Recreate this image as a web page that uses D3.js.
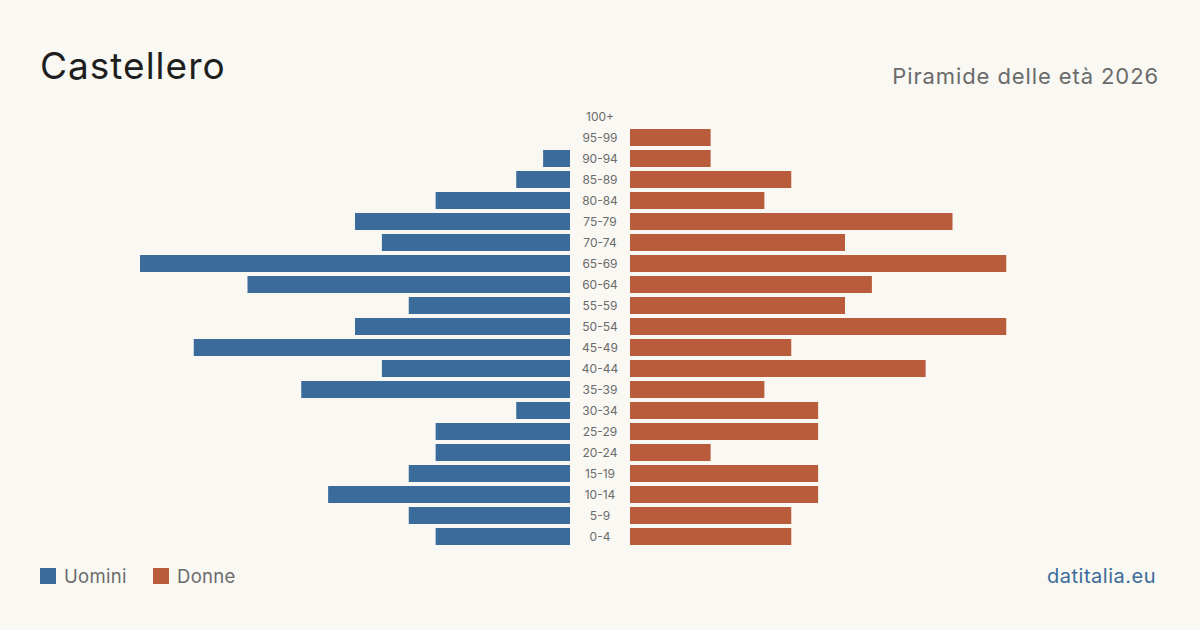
<!DOCTYPE html>
<html><head><meta charset="utf-8">
<script src="https://cdn.jsdelivr.net/npm/d3@7"></script>
<style>
html,body{margin:0;padding:0;background:#f9f8f3;}
svg{display:block;font-family:Inter,"Noto Sans",sans-serif;}
</style></head>
<body>
<svg id="c" width="1200" height="630"></svg>
<script>
const ageGroups = ["100+","95-99","90-94","85-89","80-84","75-79","70-74","65-69","60-64","55-59","50-54","45-49","40-44","35-39","30-34","25-29","20-24","15-19","10-14","5-9","0-4"];
const males   = [0,0,1,2,5,8,7,16,12,6,8,14,7,10,2,5,5,6,9,6,5];
const females = [0,3,3,6,5,12,8,14,9,8,14,6,11,5,7,7,3,7,7,6,6];
const seriesNames = ["Uomini","Donne"];
const colors = ["#3b6b9b","#b95c3c"];

const svg = d3.select("#c");
svg.append("rect").attr("width",1200).attr("height",630).attr("fill","#f9f8f3");

const y = d3.scaleBand().domain(ageGroups).range([106,547]).paddingInner(4/21).paddingOuter(2/21);
const xL = d3.scaleLinear().domain([0,16]).range([570,140]);
const xR = d3.scaleLinear().domain([0,16]).range([630,1060]);

svg.append("g").selectAll("rect").data(ageGroups).join("rect")
  .attr("x",(d,i)=>xL(males[i])).attr("y",d=>y(d))
  .attr("width",(d,i)=>xL(0)-xL(males[i])).attr("height",y.bandwidth())
  .attr("fill",colors[0]);
svg.append("g").selectAll("rect").data(ageGroups).join("rect")
  .attr("x",xR(0)).attr("y",d=>y(d))
  .attr("width",(d,i)=>xR(females[i])-xR(0)).attr("height",y.bandwidth())
  .attr("fill",colors[1]);

svg.append("g").selectAll("text").data(ageGroups).join("text")
  .attr("x",600).attr("y",d=>y(d)+y.bandwidth()/2)
  .attr("dy","0.35em").attr("text-anchor","middle")
  .attr("font-size",12).attr("fill","#6b6b6b").text(d=>d);

svg.append("text").attr("x",40).attr("y",79).attr("font-size",37).attr("letter-spacing",1).attr("fill","#1e1e1e").text("Castellero");
svg.append("text").attr("x",1159).attr("y",84).attr("text-anchor","end").attr("font-size",22).attr("letter-spacing",0.9).attr("fill","#6b6b6b").text("Piramide delle età 2026");

const leg = svg.append("g");
const legX = [40,153];
seriesNames.forEach((n,i)=>{
  leg.append("rect").attr("x",legX[i]).attr("y",568).attr("width",16).attr("height",16).attr("fill",colors[i]);
  leg.append("text").attr("x",legX[i]+24).attr("y",583).attr("font-size",18.5).attr("letter-spacing",0.3).attr("fill","#6b6b6b").text(n);
});
svg.append("text").attr("x",1156).attr("y",583).attr("text-anchor","end").attr("font-size",20).attr("letter-spacing",0.5).attr("fill","#3b6b9b").text("datitalia.eu");
</script>
</body></html>
